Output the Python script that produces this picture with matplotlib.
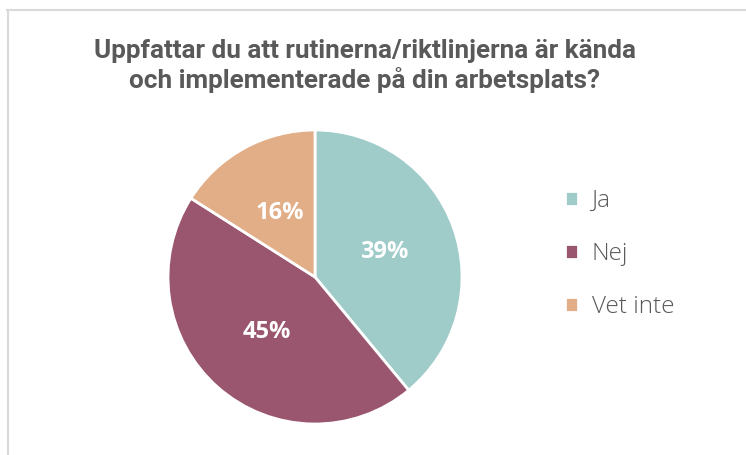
import matplotlib.pyplot as plt
from matplotlib.lines import Line2D

labels = ['Ja', 'Nej', 'Vet inte']
values = [39, 45, 16]
colors = ['#9fcbc9', '#9a566e', '#e2ae88']
title = 'Uppfattar du att rutinerna/riktlinjerna är kända\noch implementerade på din arbetsplats?'

W, H = 746, 455
fig = plt.figure(figsize=(W / 100, H / 100), dpi=100)

# frame lines (top and left only visible)
fig.add_artist(Line2D([7 / W, 1], [1 - 10 / H, 1 - 10 / H], color='#d9d9d9', lw=1.5))
fig.add_artist(Line2D([7.5 / W, 7.5 / W], [0, 1 - 10 / H], color='#d9d9d9', lw=1.5))

fig.text(365 / W, 1 - 66 / H, title, ha='center', va='center', fontsize=18.8,
         fontweight='bold', color='#595959', family='Roboto', linespacing=1.15)

cx, cy, r = 315, 455 - 277, 147
ax = fig.add_axes([(cx - r) / W, (cy - r) / H, 2 * r / W, 2 * r / H])
wedges, texts, autotexts = ax.pie(values, colors=colors, startangle=90, counterclock=False,
                                  autopct='%d%%', pctdistance=0.5,
                                  wedgeprops=dict(edgecolor='white', linewidth=2),
                                  textprops=dict(color='white', fontsize=17, fontweight='bold',
                                                 family='Open Sans'))
ax.set_xlim(-1, 1)
ax.set_ylim(-1, 1)
ax.set_aspect('equal')

leg = fig.legend(wedges, labels, loc='center left', bbox_to_anchor=(543 / W, 1 - 254 / H),
                 frameon=False, labelcolor='#595959', handlelength=0.55,
                 handleheight=0.55, handletextpad=0.55, labelspacing=1.2,
                 prop=dict(family='Open Sans', size=17.5, weight='light'))

fig.savefig('out.png', dpi=100)
